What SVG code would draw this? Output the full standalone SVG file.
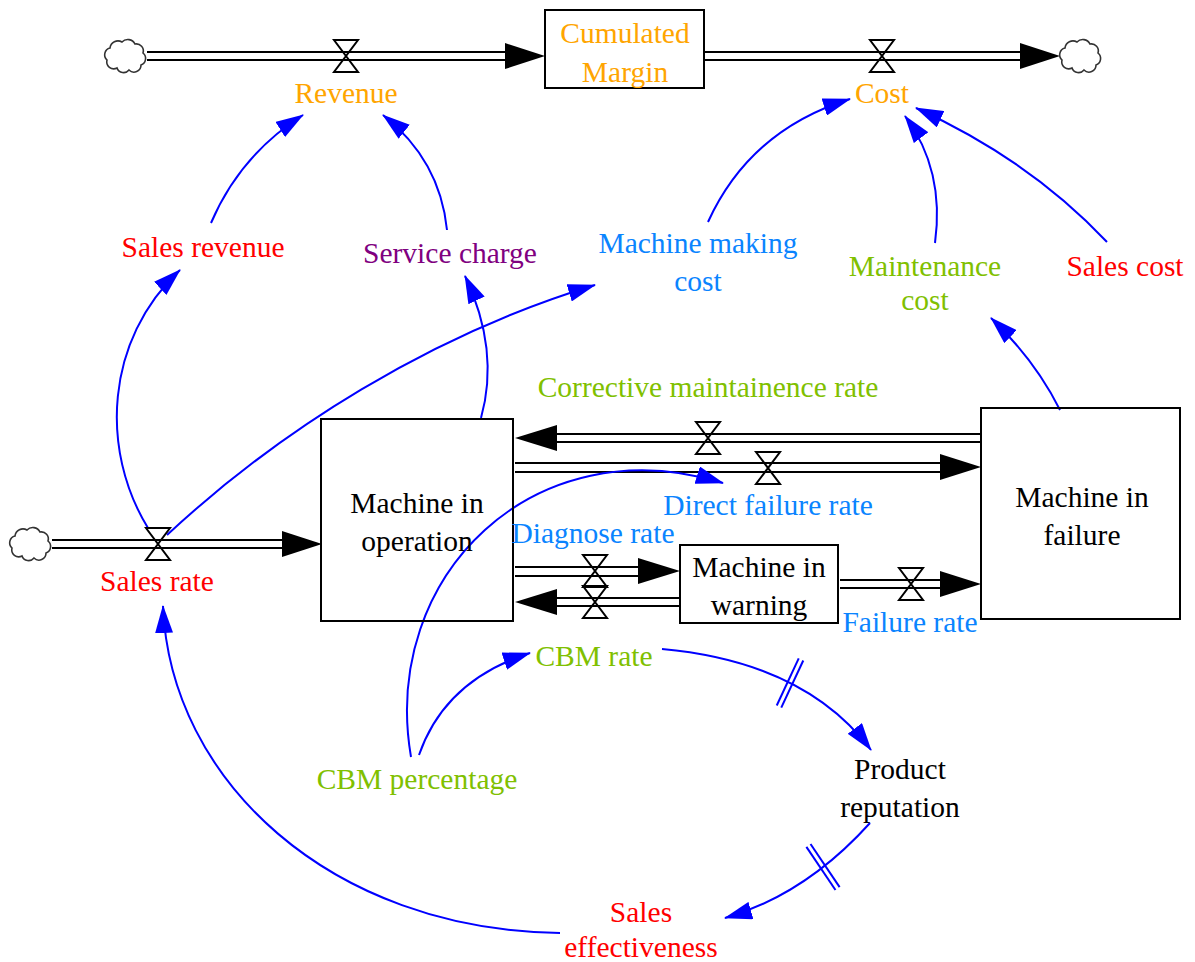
<svg xmlns="http://www.w3.org/2000/svg" width="1195" height="962" viewBox="0 0 1195 962" font-family="Liberation Serif, serif">
<style>
text{font-size:29.5px;text-anchor:middle}
.stock{fill:none;stroke:#000;stroke-width:2}
.pipe{stroke:#000;stroke-width:2;fill:none}
.head{fill:#000}
.valve{fill:none;stroke:#000;stroke-width:2}
.cloud{fill:#fff;stroke:#333;stroke-width:1.6}
.link{fill:none;stroke:#0000FF;stroke-width:2;marker-end:url(#ah)}
.delay{stroke:#0000FF;stroke-width:2}
.or{fill:#FFA500}.rd{fill:#FF0000}.pu{fill:#800080}.bl{fill:#0A84FF}.gr{fill:#80C000}.bk{fill:#000}
</style>
<defs>
<marker id="ah" viewBox="0 0 28 18" refX="27" refY="9" markerWidth="28" markerHeight="18" markerUnits="userSpaceOnUse" orient="auto">
<path d="M0,0 L28,9 L0,18 Z" fill="#0000FF"/>
</marker>
<path id="cloudshape" d="M-18,4 A7,7 0 0 1 -15,-8 A8,8 0 0 1 -3,-14 A8,8 0 0 1 10,-12 A7,7 0 0 1 18,-3 A7,7 0 0 1 16,9 A7,7 0 0 1 4,14 A7,7 0 0 1 -8,12 A7,7 0 0 1 -18,4 Z"/>
<path id="valveshape" d="M-12,-16 H12 L-12,16 H12 Z"/>
</defs>
<rect width="1195" height="962" fill="#fff"/>

<g id="connectors">
<g id="flows">
<line class="pipe" x1="147" y1="52" x2="507" y2="52"/><line class="pipe" x1="147" y1="60" x2="507" y2="60"/>
<polygon class="head" points="505,43 545,56 505,69"/>
<line class="pipe" x1="705" y1="52" x2="1022" y2="52"/><line class="pipe" x1="705" y1="60" x2="1022" y2="60"/>
<polygon class="head" points="1020,43 1060,56 1020,69"/>
<line class="pipe" x1="52" y1="540" x2="284" y2="540"/><line class="pipe" x1="52" y1="548" x2="284" y2="548"/>
<polygon class="head" points="282,531 322,544 282,557"/>
<line class="pipe" x1="555" y1="434" x2="981" y2="434"/><line class="pipe" x1="555" y1="442" x2="981" y2="442"/>
<polygon class="head" points="557,425 515,438 557,451"/>
<line class="pipe" x1="515" y1="463" x2="942" y2="463"/><line class="pipe" x1="515" y1="472" x2="942" y2="472"/>
<polygon class="head" points="940,454 981,467 940,480"/>
<line class="pipe" x1="515" y1="567" x2="640" y2="567"/><line class="pipe" x1="515" y1="576" x2="640" y2="576"/>
<polygon class="head" points="638,558 680,571 638,584"/>
<line class="pipe" x1="555" y1="598" x2="680" y2="598"/><line class="pipe" x1="555" y1="606" x2="680" y2="606"/>
<polygon class="head" points="557,589 515,602 557,615"/>
<line class="pipe" x1="840" y1="580" x2="942" y2="580"/><line class="pipe" x1="840" y1="588" x2="942" y2="588"/>
<polygon class="head" points="940,571 981,584 940,597"/>
</g>
<g id="links">
<path class="link" d="M148,528 C100,450 105,340 180,270"/>
<path class="link" d="M211,223 Q240,155 303,115"/>
<path class="link" d="M447,230 Q440,160 383,115"/>
<path class="link" d="M481,418 Q500,350 465,276"/>
<path class="link" d="M167,535 C280,430 430,335 595,285"/>
<path class="link" d="M708,222 Q750,130 850,99"/>
<path class="link" d="M935,243 Q945,170 905,116"/>
<path class="link" d="M1107,242 Q1030,160 916,108"/>
<path class="link" d="M1060,410 Q1035,360 991,318"/>
<path class="link" d="M411,757 C380,575 535,425 723,483"/>
<path class="link" d="M419,755 Q445,680 530,653"/>
<path class="link" d="M662,649 Q805,662 871,750"/>
<path class="link" d="M870,823 Q805,895 725,918"/>
<path class="link" d="M560,933 C330,930 170,780 163,606"/>
<g transform="translate(790,683) rotate(25)"><line class="delay" x1="-2.5" y1="-26" x2="-2.5" y2="26"/><line class="delay" x1="2.5" y1="-26" x2="2.5" y2="26"/></g>
<g transform="translate(823,867) rotate(146)"><line class="delay" x1="-2.5" y1="-26" x2="-2.5" y2="26"/><line class="delay" x1="2.5" y1="-26" x2="2.5" y2="26"/></g>
</g>
</g>

<g id="cloud-revenue-source"><use href="#cloudshape" class="cloud" transform="translate(125,56)"/></g>
<g id="cloud-cost-sink"><use href="#cloudshape" class="cloud" transform="translate(1080,56)"/></g>
<g id="cloud-sales-source"><use href="#cloudshape" class="cloud" transform="translate(30,544)"/></g>

<g id="cumulated-margin"><rect class="stock" x="545" y="10" width="159" height="78"/><text class="or" x="625" y="43">Cumulated</text><text class="or" x="625" y="82">Margin</text></g>
<g id="machine-in-operation"><rect class="stock" x="321" y="419" width="192" height="202"/><text class="bk" x="417" y="513">Machine in</text><text class="bk" x="417" y="551">operation</text></g>
<g id="machine-in-failure"><rect class="stock" x="981" y="408" width="199" height="211"/><text class="bk" x="1082" y="507">Machine in</text><text class="bk" x="1082" y="545">failure</text></g>
<g id="machine-in-warning"><rect class="stock" x="680" y="545" width="158" height="78"/><text class="bk" x="759" y="577">Machine in</text><text class="bk" x="759" y="615">warning</text></g>

<g id="revenue"><use href="#valveshape" class="valve" transform="translate(346,56)"/><text class="or" x="346" y="103">Revenue</text></g>
<g id="cost"><use href="#valveshape" class="valve" transform="translate(882,56)"/><text class="or" x="882" y="103">Cost</text></g>
<g id="sales-rate"><use href="#valveshape" class="valve" transform="translate(158,544)"/><text class="rd" x="157" y="591">Sales rate</text></g>
<g id="corrective-maintainence-rate"><use href="#valveshape" class="valve" transform="translate(708,438)"/><text class="gr" x="708" y="397">Corrective maintainence rate</text></g>
<g id="direct-failure-rate"><use href="#valveshape" class="valve" transform="translate(768,468)"/><text class="bl" x="768" y="515">Direct failure rate</text></g>
<g id="diagnose-rate"><use href="#valveshape" class="valve" transform="translate(595,571)"/><text class="bl" x="593" y="543">Diagnose rate</text></g>
<g id="cbm-rate"><use href="#valveshape" class="valve" transform="translate(595,602)"/><text class="gr" x="594" y="666">CBM rate</text></g>
<g id="failure-rate"><use href="#valveshape" class="valve" transform="translate(911,584)"/><text class="bl" x="910" y="632">Failure rate</text></g>

<g id="sales-revenue"><text class="rd" x="203" y="257">Sales revenue</text></g>
<g id="service-charge"><text class="pu" x="450" y="263">Service charge</text></g>
<g id="machine-making-cost"><text class="bl" x="698" y="253">Machine making</text><text class="bl" x="698" y="291">cost</text></g>
<g id="maintenance-cost"><text class="gr" x="925" y="276">Maintenance</text><text class="gr" x="925" y="310">cost</text></g>
<g id="sales-cost"><text class="rd" x="1125" y="276">Sales cost</text></g>
<g id="cbm-percentage"><text class="gr" x="417" y="789">CBM percentage</text></g>
<g id="product-reputation"><text class="bk" x="900" y="779">Product</text><text class="bk" x="900" y="817">reputation</text></g>
<g id="sales-effectiveness"><text class="rd" x="641" y="922">Sales</text><text class="rd" x="641" y="957">effectiveness</text></g>
</svg>
